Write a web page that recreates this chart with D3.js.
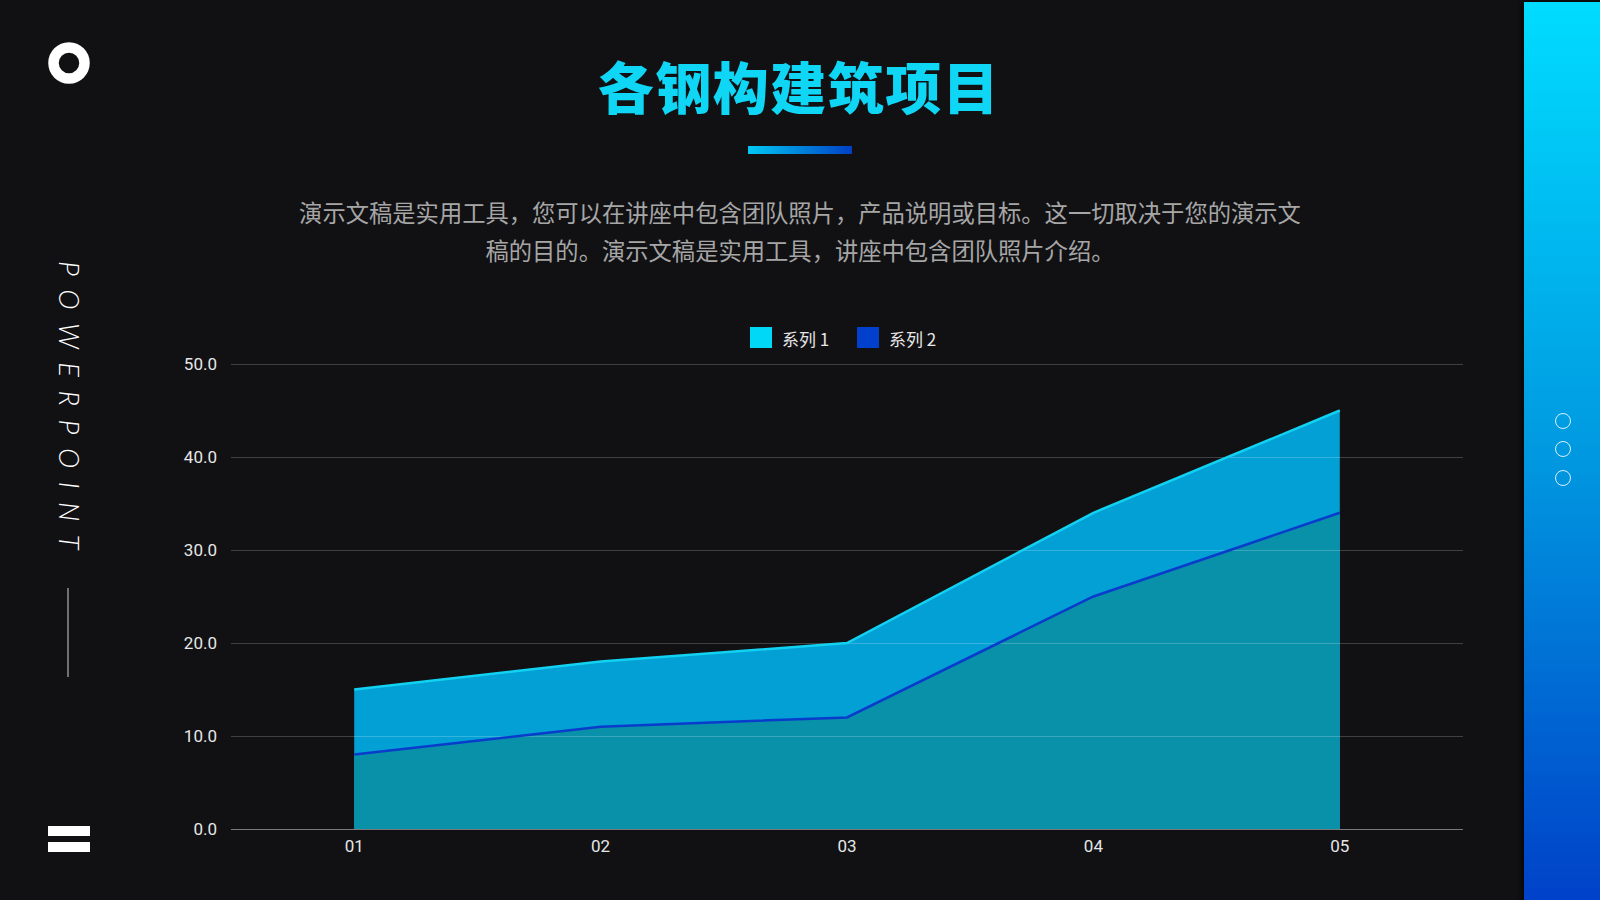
<!DOCTYPE html>
<html lang="zh">
    <head>
        <meta charset="utf-8">
        <title>各钢构建筑项目</title>
        <script src="https://d3js.org/d3.v7.min.js"></script>
        <style>
            html, body { margin: 0; padding: 0; background: #111114; overflow: hidden; }
        </style>
    </head>
    <body>
    <div id="mainDiv"></div>

        <script type="text/javascript">
            // chart data
            const categories = ['01', '02', '03', '04', '05']
            const series1 = [15, 18, 20, 34, 45]
            const series2 = [8, 11, 12, 25, 34]
            const seriesNames = ['系列 1', '系列 2']
            const yTicks = [0, 10, 20, 30, 40, 50]

            const title = '各钢构建筑项目'
            const subtitle = [
                '演示文稿是实用工具，您可以在讲座中包含团队照片，产品说明或目标。这一切取决于您的演示文',
                '稿的目的。演示文稿是实用工具，讲座中包含团队照片介绍。'
            ]

            const width = 1600
            const height = 900
            const cjk = '"Noto Sans CJK SC", "Noto Sans", sans-serif'

            const svg = d3.select('#mainDiv').append('svg')
                .attr('width', width)
                .attr('height', height)

            const defs = svg.append('defs')

            const sideGrad = defs.append('linearGradient')
                .attr('id', 'sideGrad')
                .attr('x1', 0).attr('y1', 0).attr('x2', 0).attr('y2', 1)
            sideGrad.append('stop').attr('offset', '0%').attr('stop-color', '#00dcff')
            sideGrad.append('stop').attr('offset', '50%').attr('stop-color', '#0098e0')
            sideGrad.append('stop').attr('offset', '100%').attr('stop-color', '#003fc8')

            const barGrad = defs.append('linearGradient')
                .attr('id', 'barGrad')
                .attr('x1', 0).attr('y1', 0).attr('x2', 1).attr('y2', 0)
            barGrad.append('stop').attr('offset', '0%').attr('stop-color', '#00c8f4')
            barGrad.append('stop').attr('offset', '100%').attr('stop-color', '#0040c4')

            const shadow = defs.append('filter')
                .attr('id', 'shadow')
                .attr('x', '-20%').attr('y', '-5%').attr('width', '140%').attr('height', '110%')
            shadow.append('feDropShadow')
                .attr('dx', -2).attr('dy', 0)
                .attr('stdDeviation', 3)
                .attr('flood-color', '#000').attr('flood-opacity', 0.8)

            // background
            svg.append('rect')
                .attr('width', width).attr('height', height)
                .attr('fill', '#111114')

            // right gradient panel
            svg.append('rect')
                .attr('x', 1524).attr('y', 2)
                .attr('width', 90).attr('height', height + 10)
                .attr('fill', 'url(#sideGrad)')
                .attr('filter', 'url(#shadow)')

            svg.append('g')
                .selectAll('circle')
                .data([421, 449, 478])
                .join('circle')
                .attr('cx', 1563)
                .attr('cy', d => d)
                .attr('r', 7.5)
                .attr('fill', 'none')
                .attr('stroke', 'rgba(255,255,255,0.85)')
                .attr('stroke-width', 1)

            // left decorations
            svg.append('circle')
                .attr('cx', 69).attr('cy', 63)
                .attr('r', 15.5)
                .attr('fill', 'none')
                .attr('stroke', '#ffffff')
                .attr('stroke-width', 10.5)

            svg.append('text')
                .attr('transform', 'translate(59, 261) rotate(90)')
                .attr('font-family', 'Lato, "Open Sans", sans-serif')
                .attr('font-style', 'italic')
                .attr('font-weight', 300)
                .attr('font-size', 27.5)
                .attr('letter-spacing', 13.5)
                .attr('fill', '#ffffff')
                .text('POWERPOINT')

            svg.append('line')
                .attr('x1', 68).attr('x2', 68)
                .attr('y1', 588).attr('y2', 677)
                .attr('stroke', '#cfcfcf')
                .attr('stroke-width', 1)

            svg.append('rect')
                .attr('x', 48).attr('y', 826).attr('width', 42).attr('height', 10)
                .attr('fill', '#ffffff')
            svg.append('rect')
                .attr('x', 48).attr('y', 842).attr('width', 42).attr('height', 10)
                .attr('fill', '#ffffff')

            // title
            svg.append('text')
                .attr('x', 799).attr('y', 84)
                .attr('text-anchor', 'middle')
                .attr('dominant-baseline', 'central')
                .attr('font-family', cjk)
                .attr('font-weight', 900)
                .attr('font-size', 56)
                .attr('letter-spacing', 1.5)
                .attr('fill', '#10d6f6')
                .text(title)

            svg.append('rect')
                .attr('x', 748).attr('y', 146)
                .attr('width', 104).attr('height', 8)
                .attr('fill', 'url(#barGrad)')

            svg.append('g')
                .selectAll('text')
                .data(subtitle)
                .join('text')
                .attr('x', 800)
                .attr('y', (d, i) => 212 + i * 38)
                .attr('text-anchor', 'middle')
                .attr('dominant-baseline', 'central')
                .attr('font-family', cjk)
                .attr('font-size', 23.3)
                .attr('fill', '#a6a6a6')
                .text(d => d)

            // chart
            const xScale = d3.scaleBand()
                .domain(categories)
                .range([231, 1463])

            const yScale = d3.scaleLinear()
                .domain([0, 50])
                .range([829, 364])

            const xPos = d => xScale(d) + xScale.bandwidth() / 2

            const chart = svg.append('g')

            const area = d3.area()
                .x((d, i) => xPos(categories[i]))
                .y0(yScale(0))
                .y1(d => yScale(d))

            const line = d3.line()
                .x((d, i) => xPos(categories[i]))
                .y(d => yScale(d))

            chart.append('path')
                .datum(series1)
                .attr('d', area)
                .attr('fill', '#03a0d6')

            chart.append('path')
                .datum(series2)
                .attr('d', area)
                .attr('fill', '#0891a8')

            // gridlines over the areas
            const yAxis = d3.axisLeft(yScale)
                .tickValues(yTicks)
                .tickFormat(d3.format('.1f'))
                .tickSize(-(1463 - 231))
                .tickPadding(14)

            const yAxisPlot = chart.append('g')
                .attr('transform', 'translate(231, 0)')
                .call(yAxis)
            yAxisPlot.select('.domain').remove()
            yAxisPlot.selectAll('.tick line')
                .attr('stroke', d => d === 0 ? '#7a7a7a' : 'rgba(255,255,255,0.2)')
            yAxisPlot.selectAll('.tick text')
                .attr('fill', '#e6e6e6')
                .attr('font-family', 'Roboto, "Liberation Sans", sans-serif')
                .attr('font-size', 17)

            chart.append('path')
                .datum(series1)
                .attr('d', line)
                .attr('fill', 'none')
                .attr('stroke', '#12d2f2')
                .attr('stroke-width', 2.5)

            chart.append('path')
                .datum(series2)
                .attr('d', line)
                .attr('fill', 'none')
                .attr('stroke', '#0a3ccc')
                .attr('stroke-width', 2.5)

            const xAxis = d3.axisBottom(xScale)
                .tickSize(0)
                .tickPadding(11)

            const xAxisPlot = chart.append('g')
                .attr('transform', 'translate(0, 829)')
                .call(xAxis)
            xAxisPlot.select('.domain').remove()
            xAxisPlot.selectAll('.tick text')
                .attr('fill', '#e6e6e6')
                .attr('font-family', 'Roboto, "Liberation Sans", sans-serif')
                .attr('font-size', 17)

            // legend
            const legendColors = ['#00d8f8', '#0040cc']
            const legendX = [750, 857]
            const legend = svg.append('g')
                .selectAll('g')
                .data(seriesNames)
                .join('g')
                .attr('transform', (d, i) => `translate(${legendX[i]}, 327)`)
            legend.append('rect')
                .attr('width', 22).attr('height', 21)
                .attr('fill', (d, i) => legendColors[i])
            legend.append('text')
                .attr('x', 32).attr('y', 11)
                .attr('dominant-baseline', 'central')
                .attr('font-family', cjk)
                .attr('font-size', 17)
                .attr('fill', '#e6e6e6')
                .text(d => d)
        </script>
    </body>
</html>
